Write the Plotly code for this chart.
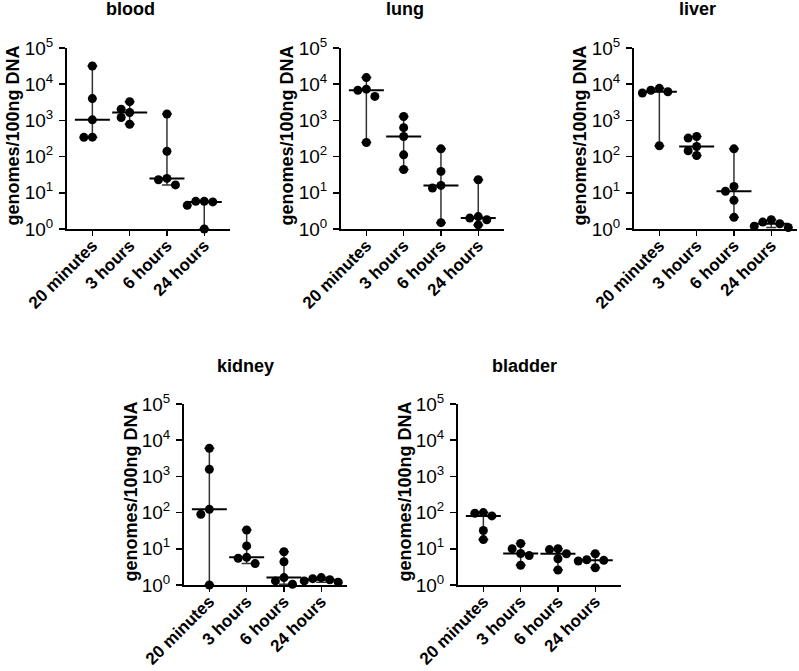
import math
import plotly.graph_objects as go

categories = ["20 minutes", "3 hours", "6 hours", "24 hours"]
organs = ["blood", "lung", "liver", "kidney", "bladder"]

blood = [
    [31900, 4000, 1035, 345, 340],
    [3300, 2040, 1650, 1200, 785],
    [1500, 140, 25, 23, 16.5],
    [5.8, 5.8, 5.6, 4.5, 1.0],
]
lung = [
    [15200, 7300, 6800, 4600, 245],
    [1280, 630, 360, 112, 44],
    [164, 39, 16, 13.5, 1.5],
    [23, 2.2, 2.0, 1.8, 1.3],
]
liver = [
    [7700, 6800, 6200, 5700, 200],
    [360, 325, 190, 145, 107],
    [164, 15, 11, 6.2, 2.1],
    [1.8, 1.55, 1.4, 1.2, 1.1],
]
kidney = [
    [5970, 1570, 123, 90, 1.0],
    [33, 12, 5.8, 5.5, 3.9],
    [8.3, 4.4, 1.6, 1.3, 1.05],
    [1.6, 1.5, 1.4, 1.3, 1.2],
]
bladder = [
    [100, 96, 81, 32, 18],
    [14, 10, 7.4, 6.5, 3.5],
    [10, 9.5, 7.3, 5.3, 2.6],
    [7.3, 5.0, 4.8, 4.6, 3.0],
]
ytick_vals = [1, 10, 100, 1000, 10000, 100000]
ytick_text = ["10<sup>0</sup>", "10<sup>1</sup>", "10<sup>2</sup>",
              "10<sup>3</sup>", "10<sup>4</sup>", "10<sup>5</sup>"]
y_title = "genomes/100ng DNA"

data = [blood, lung, liver, kidney, bladder]

W, H = 799, 671
# layout in pixels: (axis left x, axis top y)
panel_px = [(67, 48), (341, 48), (634, 48), (184, 404), (458, 404)]
title_px = [(130, -2), (405, -2), (697, -2), (246, 355), (524, 355)]
AX_W, AX_H = 163, 181
XR = [-0.68, 3.69]
XPX = AX_W / (XR[1] - XR[0])
YPX = AX_H / 5.0

FONT = "Liberation Sans, Arial, sans-serif"


def swarm(vals, step=8.5, thr=8.2):
    placed = []
    offs = []
    for v in vals:
        ypx = math.log10(v) * YPX
        chosen = 0.0
        for k in range(0, 12):
            cands = [0.0] if k == 0 else [-k * step, k * step]
            ok = None
            for c in cands:
                if all(math.hypot(c - px, ypx - py) >= thr for px, py in placed):
                    ok = c
                    break
            if ok is not None:
                chosen = ok
                break
        placed.append((chosen, ypx))
        offs.append(chosen / XPX)
    return offs


fig = go.Figure()
annotations = []
for i, (organ, groups) in enumerate(zip(organs, data)):
    n = i + 1
    xa = "x" if n == 1 else f"x{n}"
    ya = "y" if n == 1 else f"y{n}"
    axl, axt = panel_px[i]
    for gi, vals in enumerate(groups):
        s = sorted(vals)
        med = s[len(s) // 2]
        fig.add_trace(go.Scatter(
            x=[gi], y=[med], mode="markers", xaxis=xa, yaxis=ya,
            marker=dict(symbol="line-ew", size=25, color="black",
                        line=dict(width=2, color="black")),
            error_y=dict(type="data", symmetric=False, array=[s[-1] - med],
                         arrayminus=[med - s[0]], width=5, thickness=1.5,
                         color="#333333"),
            cliponaxis=False, showlegend=False, hoverinfo="skip"))
        offs = swarm(vals)
        fig.add_trace(go.Scatter(
            x=[gi + o for o in offs], y=vals, mode="markers", xaxis=xa, yaxis=ya,
            marker=dict(symbol="circle", size=9, color="black"),
            cliponaxis=False, showlegend=False))
    xd = [axl / W, (axl + AX_W) / W]
    yd = [1 - (axt + AX_H) / H, 1 - axt / H]
    fig.layout[("xaxis" if n == 1 else f"xaxis{n}")] = dict(
        domain=xd, range=XR, tickvals=[0, 1, 2, 3], ticktext=categories,
        tickangle=-45, tickfont=dict(family=FONT, size=17, color="black", weight="bold"),
        showline=True, linewidth=2, linecolor="black", ticks="outside",
        ticklen=5, tickwidth=1.5, tickcolor="black", showgrid=False,
        zeroline=False, anchor=ya, automargin=False, ticklabelstandoff=-7)
    fig.layout[("yaxis" if n == 1 else f"yaxis{n}")] = dict(
        domain=yd, type="log", range=[0, 5], tickvals=ytick_vals,
        ticktext=ytick_text, tickfont=dict(family=FONT, size=19, color="black"),
        showline=True, linewidth=2, linecolor="black", ticks="outside",
        ticklen=6, tickwidth=1.5, tickcolor="black", showgrid=False,
        zeroline=False, anchor=xa, automargin=False, ticklabelstandoff=2)
    tx, ty = title_px[i]
    annotations.append(dict(text=organ, x=tx / W, y=1 - ty / H, xref="paper",
                            yref="paper", showarrow=False, xanchor="center",
                            yanchor="top", borderpad=0,
                            font=dict(family=FONT, size=18, color="black", weight="bold")))
    annotations.append(dict(text=y_title, x=(axl - 54) / W,
                            y=1 - (axt + AX_H / 2 - 3) / H, xref="paper", yref="paper",
                            showarrow=False, textangle=-90, xanchor="center",
                            yanchor="middle",
                            font=dict(family=FONT, size=18, color="black", weight="bold")))

fig.update_layout(width=W, height=H, margin=dict(l=0, r=0, t=0, b=0, autoexpand=False),
                  paper_bgcolor="white", plot_bgcolor="white",
                  annotations=annotations, showlegend=False)
fig.write_html("out.html", config={"displayModeBar": False, "staticPlot": True},
               post_script="document.body.style.margin='0px';document.body.style.padding='0px';document.body.style.overflow='hidden';")
